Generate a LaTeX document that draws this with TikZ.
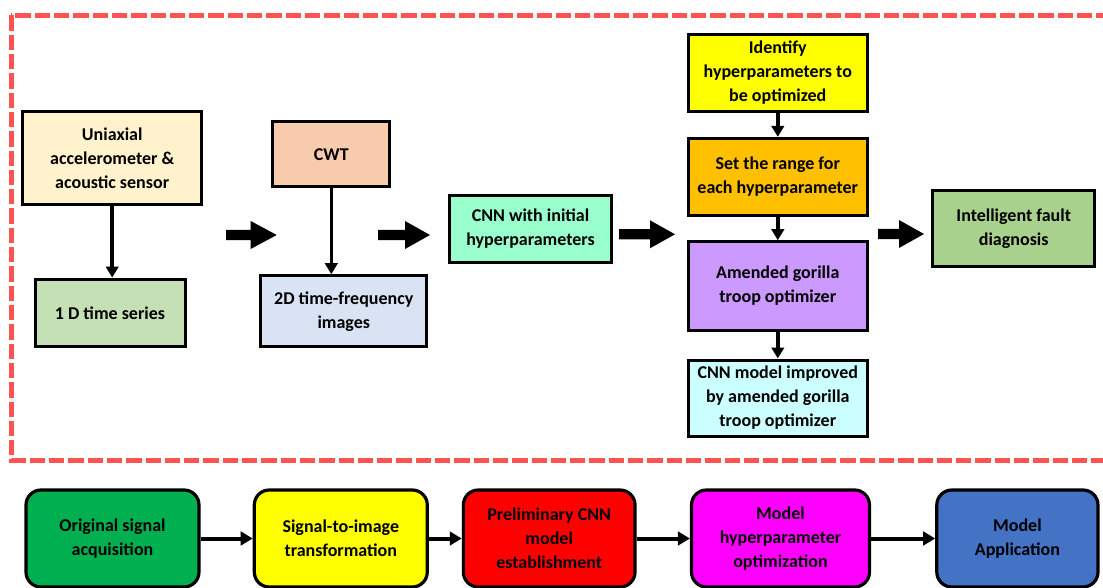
\documentclass[tikz,border=0pt]{standalone}
\usepackage{fontspec}
\setmainfont{Carlito}
\usetikzlibrary{arrows.meta}
\definecolor{dashred}{RGB}{255,82,82}
\definecolor{cUni}{HTML}{FFF2CC}
\definecolor{cTs}{HTML}{C5E0B4}
\definecolor{cCwt}{HTML}{F8CBAD}
\definecolor{cTf}{HTML}{DAE3F3}
\definecolor{cCnn}{HTML}{99FFCC}
\definecolor{cIdent}{HTML}{FFFF00}
\definecolor{cRange}{HTML}{FFC000}
\definecolor{cAgto}{HTML}{CC99FF}
\definecolor{cImp}{HTML}{CCFFFF}
\definecolor{cIfd}{HTML}{A9D18E}
\definecolor{cOrig}{HTML}{00B050}
\definecolor{cS2i}{HTML}{FFFF00}
\definecolor{cPre}{HTML}{FF0000}
\definecolor{cMho}{HTML}{FF00FF}
\definecolor{cApp}{HTML}{4472C4}
\newcommand{\blkarrow}[4]{% x1, xhead, x2, y
  \fill[black] (#1,#4-5.2) -- (#2,#4-5.2) -- (#2,#4-14) -- (#3,#4) -- (#2,#4+14) -- (#2,#4+5.2) -- (#1,#4+5.2) -- cycle;}
\begin{document}
\begin{tikzpicture}[x=1pt,y=-1pt,
  txt/.style={font=\fontsize{18}{24}\selectfont\bfseries, align=center, text=black, inner sep=0pt},
  box/.style={txt, draw=black, line width=3pt, rectangle},
  rbox/.style={txt, draw=black, line width=3.2pt, rounded corners=15pt, minimum width=#1, minimum height=97pt},
  varrow/.style={line width=3.6pt, -{Triangle[width=12.5pt,length=11pt]}},
  harrow/.style={line width=4pt, -{Triangle[width=13.5pt,length=12pt]}}]
\useasboundingbox (0,0) rectangle (1103,588);
\begin{scope}
\clip (0,0) rectangle (1103,588);
% dashed frame
\draw[dashred, line width=5pt, dash pattern=on 15.3pt off 4pt] (11,15.5) rectangle (1130,460);
% upper boxes
\node[box, fill=cUni, minimum width=179pt, minimum height=92.3pt] (uni) at (112.2,157.9) {Uniaxial\\accelerometer \&\\acoustic sensor};
\node[box, fill=cTs, minimum width=150pt, minimum height=67.7pt] (ts) at (110,312.9) {1 D time series};
\node[box, fill=cCwt, minimum width=117.3pt, minimum height=64.7pt] (cwt) at (331.3,154.3) {CWT};
\node[box, fill=cTf, minimum width=165.7pt, minimum height=71pt] (tf) at (343.8,311.2) {2D time-frequency\\images};
\node[box, fill=cCnn, minimum width=162.4pt, minimum height=66.6pt] (cnn) at (530.5,229) {CNN with initial\\hyperparameters};
\node[box, fill=cIdent, minimum width=179pt, minimum height=77.4pt] (ident) at (777.8,73) {Identify\\hyperparameters to\\be optimized};
\node[box, fill=cRange, minimum width=179pt, minimum height=76.7pt] (range) at (777.8,176.7) {Set the range for\\each hyperparameter};
\node[box, fill=cAgto, minimum width=179pt, minimum height=88.3pt] (agto) at (777.8,285.9) {Amended gorilla\\troop optimizer};
\node[box, fill=cImp, minimum width=179pt, minimum height=76pt] (imp) at (777.8,398) {CNN model improved\\by amended gorilla\\troop optimizer};
\node[box, fill=cIfd, minimum width=162.3pt, minimum height=76pt] (ifd) at (1013.7,228.7) {Intelligent fault\\diagnosis};
% vertical connectors
\draw[varrow] (uni.south) -- (uni.south |- ts.north);
\draw[varrow] (cwt.south) -- (cwt.south |- tf.north);
\draw[varrow] (ident.south) -- (range.north);
\draw[varrow] (range.south) -- (agto.north);
\draw[varrow] (agto.south) -- (imp.north);
% block arrows
\blkarrow{226}{250.7}{276.7}{235}
\blkarrow{378}{405}{430}{235}
\blkarrow{619}{650}{675}{234.3}
\blkarrow{878}{899}{924}{234}
% bottom row
\node[rbox=173pt, fill=cOrig] (orig) at (112.5,538.5) {Original signal\\acquisition};
\node[rbox=173pt, fill=cS2i] (s2i) at (340.8,538.5) {Signal-to-image\\transformation};
\node[rbox=171.7pt, fill=cPre] (pre) at (549.2,538.5) {Preliminary CNN\\model\\establishment};
\node[rbox=178pt, fill=cMho] (mho) at (780.5,538.5) {Model\\hyperparameter\\optimization};
\node[rbox=161.2pt, fill=cApp] (app) at (1017.4,538.5) {Model\\Application};
\draw[harrow] (orig) -- (s2i);
\draw[harrow] (s2i) -- (pre);
\draw[harrow] (pre) -- (mho);
\draw[harrow] (mho) -- (app);
\end{scope}
\end{tikzpicture}
\end{document}
